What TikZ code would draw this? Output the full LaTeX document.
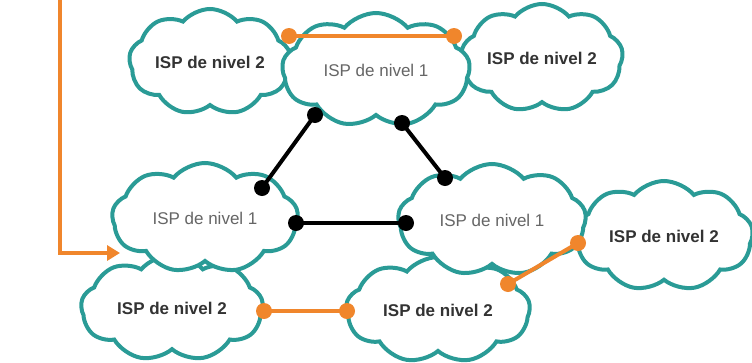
\documentclass[tikz,border=0pt]{standalone}
\usepackage{fontspec}
\setmainfont{Liberation Sans}
\usetikzlibrary{shapes.symbols,arrows.meta}

\definecolor{nube}{HTML}{2A9B96}
\definecolor{naranja}{HTML}{F0862C}

\tikzset{
  isp/.style={cloud, cloud puffs=9, cloud puff arc=100, cloud ignores aspect, draw=nube, line width=4pt,
    fill=white, inner sep=0pt, font=\fontsize{17}{20}\selectfont},
  nivelA/.style={isp, text=black!60},
  nivelB/.style={isp, text=black!80, font=\fontsize{17}{20}\selectfont\bfseries},
  enlace/.style={line width=4pt},
  punto/.style={circle, fill, inner sep=0pt, minimum size=16pt}
}

\begin{document}
\begin{tikzpicture}[x=1pt,y=-1pt]
      \useasboundingbox (0,0) rectangle (752,362);
      %nubes de nivel 2
      \node[nivelB, minimum width=162pt, minimum height=106pt] (TL) at (210,62) {ISP de nivel 2};
      \node[nivelB, minimum width=162pt, minimum height=108pt] (TR) at (542,58) {ISP de nivel 2};
      \node[nivelB, minimum width=178pt, minimum height=110pt] (FR) at (664,236) {ISP de nivel 2};
      \node[nivelB, minimum width=182pt, minimum height=106pt] (BL) at (172,308) {ISP de nivel 2};
      \node[nivelB, minimum width=184pt, minimum height=106pt] (BM) at (438,310) {ISP de nivel 2};
      %nubes de nivel 1
      \node[nivelA, minimum width=188pt, minimum height=114pt] (T1) at (376,70) {ISP de nivel 1};
      \node[nivelA, minimum width=186pt, minimum height=110pt] (L1) at (205,218) {ISP de nivel 1};
      \node[nivelA, minimum width=188pt, minimum height=112pt] (R1) at (492,220) {ISP de nivel 1};
      %points
      \coordinate (A) at (289,36); \coordinate (B) at (454,36);
      \coordinate (C) at (315,115); \coordinate (D) at (262,188);
      \coordinate (E) at (402,123); \coordinate (F) at (445,178);
      \coordinate (G) at (296,223); \coordinate (H) at (406,223);
      \coordinate (I) at (264,311); \coordinate (J) at (347,311);
      \coordinate (K) at (508,284); \coordinate (M) at (578,243);
      \coordinate (P) at (60,0); \coordinate (Q) at (60,253); \coordinate (R) at (120,253);
      %enlaces
      \draw[enlace, naranja] (A)--(B); \draw[enlace, naranja] (I)--(J); \draw[enlace, naranja] (K)--(M);
      \draw[enlace] (C)--(D); \draw[enlace] (E)--(F); \draw[enlace] (G)--(H);
      \foreach \p in {A,B,I,J,K,M} \node[punto, naranja] at (\p) {};
      \foreach \p in {C,D,E,F,G,H} \node[punto, black] at (\p) {};
      %flecha
      \draw[line width=3.5pt, naranja, -{Triangle[width=15pt,length=13pt]}] (P)--(Q)--(R);
    \end{tikzpicture}
\end{document}
